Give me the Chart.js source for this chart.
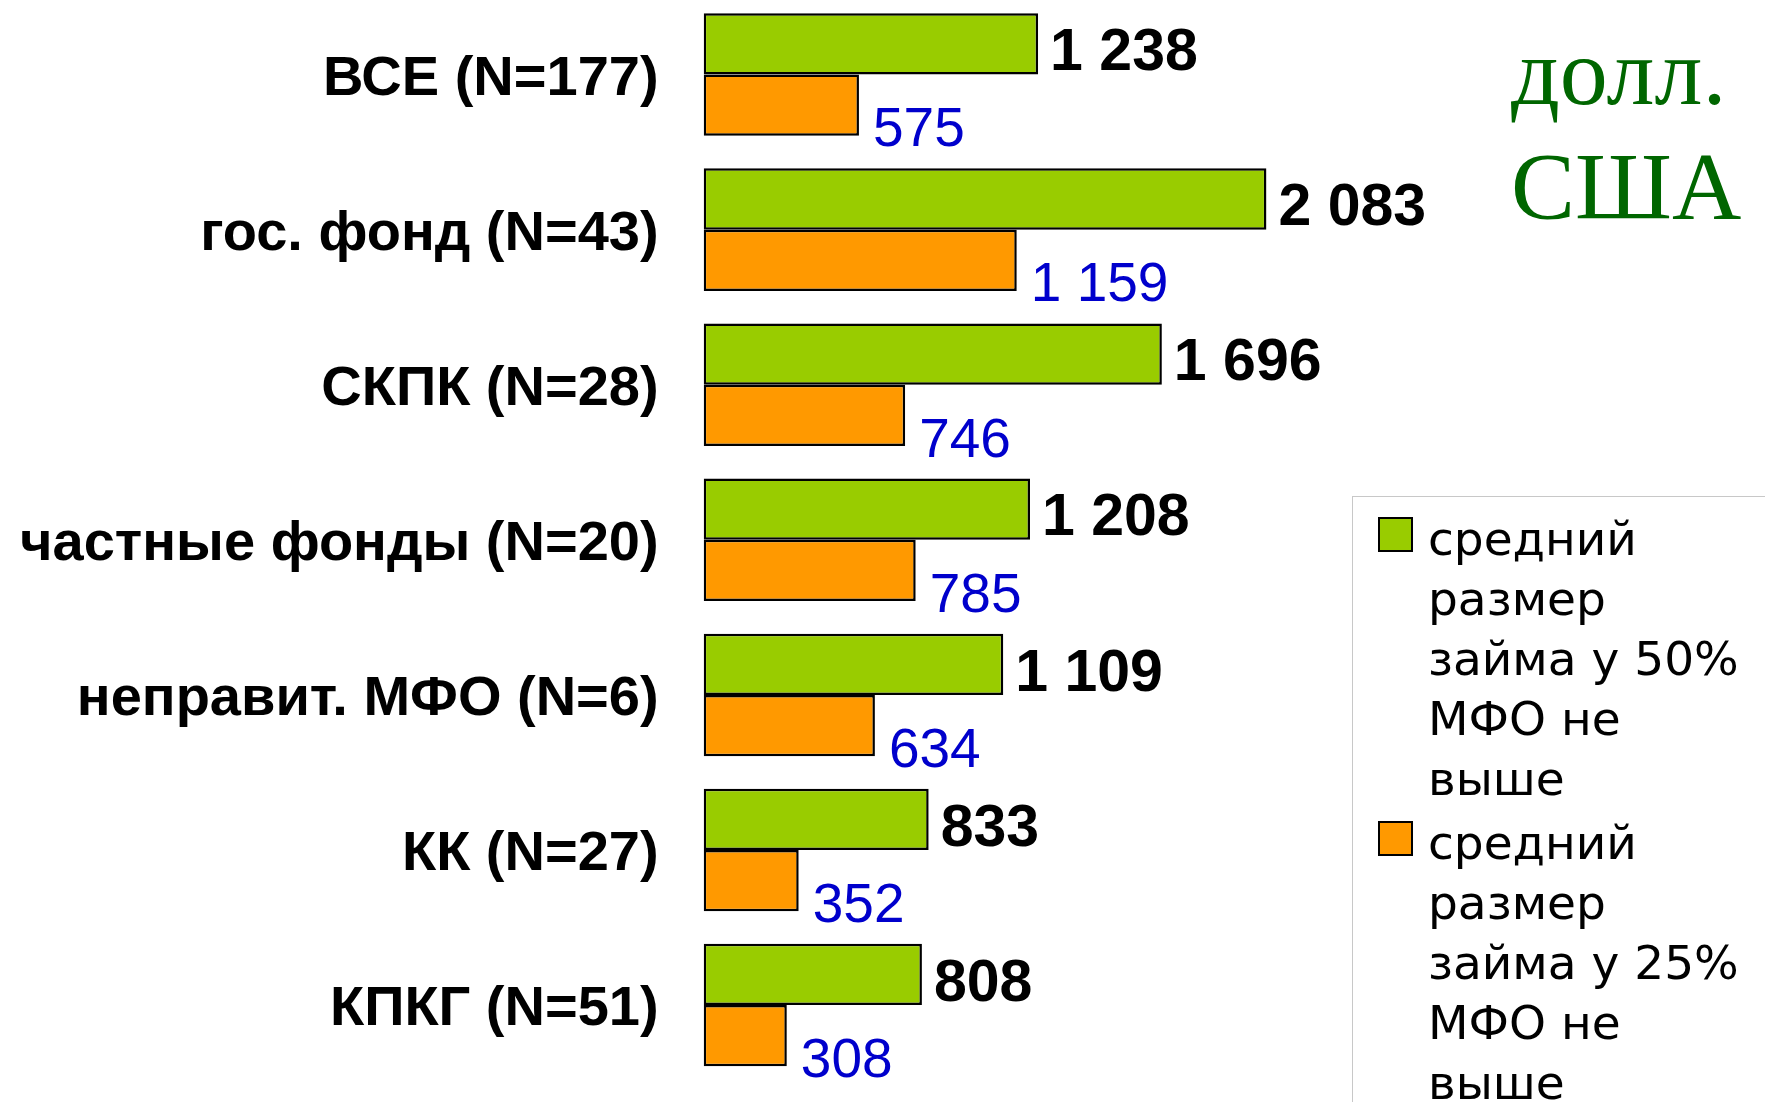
<!DOCTYPE html>
<html>
<head>
<meta charset="utf-8">
<script src="https://cdn.jsdelivr.net/npm/chart.js@4"></script>
<style>
  html, body { margin: 0; padding: 0; background: #fff; overflow: hidden; }
  #wrap { position: absolute; left: 0; top: -3px; width: 1765px; height: 1105px; }
</style>
</head>
<body>
<div id="wrap"><canvas id="loanChart" width="1765" height="1105"></canvas></div>
<script>
// Data
const categories = ['ВСЕ (N=177)', 'гос. фонд (N=43)', 'СКПК (N=28)', 'частные фонды (N=20)', 'неправит. МФО (N=6)', 'КК (N=27)', 'КПКГ (N=51)'];
const loan50 = [1238, 2083, 1696, 1208, 1109, 833, 808];
const loan25 = [575, 1159, 746, 785, 634, 352, 308];
const legend50 = ['средний', 'размер', 'займа у 50%', 'МФО не', 'выше'];
const legend25 = ['средний', 'размер', 'займа у 25%', 'МФО не', 'выше'];
const unitText = ['долл.', 'США'];

const OFF = 3; // canvas is shifted up by 3px

function fmt(v) {
  return String(v).replace(/\B(?=(\d{3})+(?!\d))/g, ' ');
}

// value labels next to bars
const valueLabels = {
  id: 'valueLabels',
  afterDatasetsDraw(chart) {
    const ctx = chart.ctx;
    ctx.save();
    ctx.textAlign = 'left';
    ctx.textBaseline = 'middle';
    chart.data.datasets.forEach((ds, i) => {
      const meta = chart.getDatasetMeta(i);
      meta.data.forEach((bar, j) => {
        if (i === 0) {
          ctx.font = 'bold 59px "Liberation Sans", Arial, sans-serif';
          ctx.fillStyle = '#000';
          ctx.fillText(fmt(ds.data[j]), bar.x + 12, bar.y + 10);
        } else {
          ctx.font = '55px "Liberation Sans", Arial, sans-serif';
          ctx.fillStyle = '#0000cc';
          ctx.fillText(fmt(ds.data[j]), bar.x + 14, bar.y + 26);
        }
      });
    });
    ctx.restore();
  }
};

// legend box and unit caption
const sideNotes = {
  id: 'sideNotes',
  afterDraw(chart) {
    const ctx = chart.ctx;
    ctx.save();

    // unit
    ctx.fillStyle = '#006600';
    ctx.font = '96px "Liberation Serif", "Times New Roman", serif';
    ctx.textBaseline = 'alphabetic';
    ctx.textAlign = 'left';
    ctx.fillText(unitText[0], 1511, 104 + OFF);
    ctx.fillText(unitText[1], 1511, 219 + OFF);

    // legend frame
    ctx.strokeStyle = '#c8c8c8';
    ctx.lineWidth = 1;
    ctx.strokeRect(1352.5, 496.5 + OFF, 500, 700);

    const items = [
      { lines: legend50, color: chart.data.datasets[0].backgroundColor, boxY: 518, base: 555 },
      { lines: legend25, color: chart.data.datasets[1].backgroundColor, boxY: 822, base: 859 }
    ];
    ctx.font = '47px "DejaVu Sans", Verdana, sans-serif';
    items.forEach(it => {
      ctx.fillStyle = it.color;
      ctx.fillRect(1379, it.boxY + OFF, 33, 33);
      ctx.strokeStyle = '#000';
      ctx.lineWidth = 2;
      ctx.strokeRect(1379, it.boxY + OFF, 33, 33);
      ctx.fillStyle = '#000';
      it.lines.forEach((t, k) => {
        ctx.fillText(t, 1428, it.base + k * 60 + OFF);
      });
    });
    ctx.restore();
  }
};

const ctx = document.getElementById('loanChart').getContext('2d');
const loanChart = new Chart(ctx, {
  type: 'bar',
  data: {
    labels: categories,
    datasets: [
      {
        label: 'средний размер займа у 50% МФО не выше',
        data: loan50,
        backgroundColor: '#99cc00',
        borderColor: '#000',
        borderWidth: 2.5,
        borderSkipped: false
      },
      {
        label: 'средний размер займа у 25% МФО не выше',
        data: loan25,
        backgroundColor: '#ff9900',
        borderColor: '#000',
        borderWidth: 2.5,
        borderSkipped: false
      }
    ]
  },
  options: {
    indexAxis: 'y',
    responsive: false,
    animation: false,
    categoryPercentage: 0.79,
    barPercentage: 1.0,
    layout: {
      padding: { left: 0, right: 250.8, top: 0, bottom: 19.4 }
    },
    plugins: {
      legend: { display: false },
      tooltip: { enabled: false }
    },
    scales: {
      x: {
        display: false,
        min: 0,
        max: 3000
      },
      y: {
        grid: { display: false, drawTicks: false },
        border: { display: false },
        ticks: {
          color: '#000',
          padding: 45,
          labelOffset: 5,
          font: { family: '"Liberation Sans", Arial, sans-serif', weight: 'bold', size: 56 }
        },
        afterFit(scale) {
          scale.width = 703.6;
          scale.paddingTop = 0;
          scale.paddingBottom = 0;
        }
      }
    }
  },
  plugins: [valueLabels, sideNotes]
});
</script>
</body>
</html>
